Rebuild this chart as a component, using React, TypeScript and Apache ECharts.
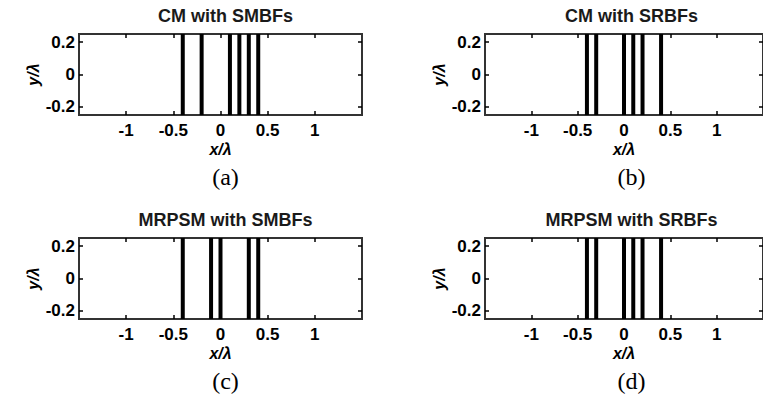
import React, { useEffect, useRef } from "react";
import * as echarts from "echarts";

const xTicks = [-1, -0.5, 0, 0.5, 1];
const yTicks = [-0.2, 0, 0.2];
const xRange = [-1.5, 1.5];
const yRange = [-0.25, 0.25];

const titles = ["CM with SMBFs", "CM with SRBFs", "MRPSM with SMBFs", "MRPSM with SRBFs"];
const captions = ["(a)", "(b)", "(c)", "(d)"];

const cmSmbf = [-0.4, -0.2, 0.1, 0.2, 0.3, 0.4];
const cmSrbf = [-0.4, -0.3, 0, 0.1, 0.2, 0.4];
const mrpsmSmbf = [-0.4, -0.1, 0, 0.3, 0.4];
const mrpsmSrbf = [-0.4, -0.3, 0, 0.1, 0.2, 0.4];

const panelData = [cmSmbf, cmSrbf, mrpsmSmbf, mrpsmSrbf];

const grids = [
  { left: 79, top: 34, width: 283, height: 81 },
  { left: 485, top: 34, width: 283, height: 81 },
  { left: 79, top: 238, width: 283, height: 81 },
  { left: 485, top: 238, width: 283, height: 81 },
];

const FONT = "'Liberation Sans', Arial, sans-serif";

export default function App() {
  const ref = useRef<HTMLDivElement>(null);
  useEffect(() => {
    if (!ref.current) return;
    const chart = echarts.init(ref.current, undefined, { renderer: "svg" });
    const xAxis: any[] = [];
    const yAxis: any[] = [];
    const series: any[] = [];
    const title: any[] = [];
    const tickStyle = { color: "#000", width: 1.5 };
    grids.forEach((g, i) => {
      const labelStyle = {
        color: "#000",
        fontFamily: FONT,
        fontWeight: "bold",
        fontSize: 17,
      };
      xAxis.push({
        type: "value",
        gridIndex: i,
        min: xRange[0],
        max: xRange[1],
        position: "bottom",
        axisLine: { show: false, onZero: false },
        splitLine: { show: false },
        axisTick: { show: true, inside: true, length: 4, customValues: xTicks, lineStyle: tickStyle },
        axisLabel: { show: true, customValues: xTicks, margin: 7, ...labelStyle },
        name: "x/λ",
        nameLocation: "middle",
        nameGap: 26,
        nameTextStyle: { ...labelStyle, fontSize: 16, fontStyle: "italic" },
      });
      xAxis.push({
        type: "value",
        gridIndex: i,
        min: xRange[0],
        max: xRange[1],
        position: "top",
        axisLine: { show: false, onZero: false },
        splitLine: { show: false },
        axisTick: { show: true, inside: true, length: 4, customValues: xTicks, lineStyle: tickStyle },
        axisLabel: { show: false },
      });
      yAxis.push({
        type: "value",
        gridIndex: i,
        min: yRange[0],
        max: yRange[1],
        position: "left",
        axisLine: { show: false, onZero: false },
        splitLine: { show: false },
        axisTick: { show: true, inside: true, length: 4, customValues: yTicks, lineStyle: tickStyle },
        axisLabel: { show: true, customValues: yTicks, margin: 4, ...labelStyle },
        name: "y/λ",
        nameLocation: "middle",
        nameGap: 38,
        nameRotate: 90,
        nameTextStyle: { ...labelStyle, fontSize: 16, fontStyle: "italic" },
      });
      yAxis.push({
        type: "value",
        gridIndex: i,
        min: yRange[0],
        max: yRange[1],
        position: "right",
        axisLine: { show: false, onZero: false },
        splitLine: { show: false },
        axisTick: { show: true, inside: true, length: 4, customValues: yTicks, lineStyle: tickStyle },
        axisLabel: { show: false },
      });
      series.push({
        type: "custom",
        xAxisIndex: i * 2,
        yAxisIndex: i * 2,
        data: panelData[i].map((v) => [v, 0]),
        encode: { x: 0, y: 1 },
        renderItem: (params: any, api: any) => {
          const x = api.value(0);
          const p1 = api.coord([x, yRange[0]]);
          const p2 = api.coord([x, yRange[1]]);
          return {
            type: "rect",
            shape: { x: p1[0] - 2, y: p2[1], width: 4, height: p1[1] - p2[1] },
            style: { fill: "#000" },
          };
        },
      });
      const cx = g.left + 141.5;
      title.push({
        text: titles[i],
        left: cx,
        top: g.top - 32,
        textAlign: "center",
        textStyle: { color: "#1a1a1a", fontFamily: FONT, fontWeight: "bold", fontSize: 18 },
      });
      title.push({
        text: captions[i],
        left: cx,
        top: g.top + 126,
        textAlign: "center",
        textStyle: { color: "#000", fontFamily: "'Liberation Serif', 'Times New Roman', serif", fontWeight: "normal", fontSize: 24 },
      });
    });
    chart.setOption({
      animation: false,
      backgroundColor: "#fff",
      grid: grids.map((g) => ({ ...g, show: true, borderColor: "#333", borderWidth: 2, backgroundColor: "transparent" })),
      xAxis,
      yAxis,
      series,
      title,
    });
    return () => chart.dispose();
  }, []);
  return <div ref={ref} style={{ position: "fixed", left: 0, top: 0, width: 763, height: 396 }} />;
}
